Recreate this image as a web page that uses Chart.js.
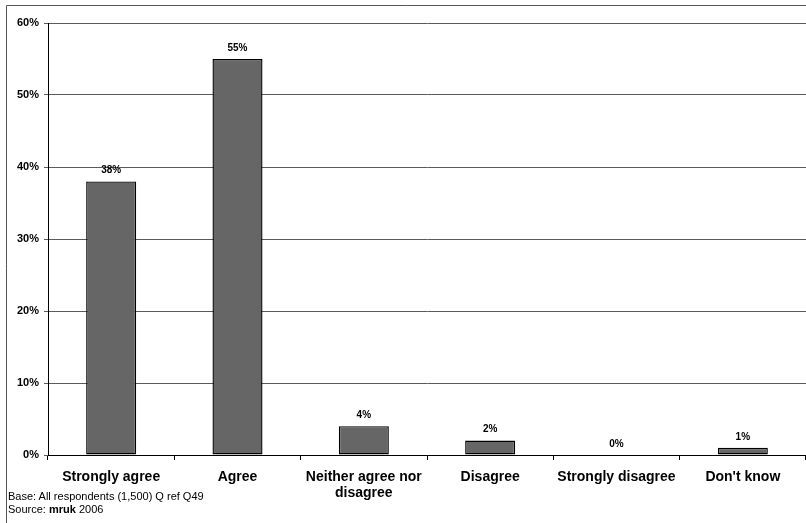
<!DOCTYPE html>
<html>
<head>
<meta charset="utf-8">
<script src="https://cdn.jsdelivr.net/npm/chart.js@4"></script>
<style>
  html, body { margin: 0; padding: 0; background: #fff; }
  #wrap { position: relative; width: 806px; height: 523px; }
  #note { position: absolute; left: 8px; top: 490px; font: 11px Arial, "Liberation Sans", sans-serif; color: #000; line-height: 13px; }
</style>
</head>
<body>
<div id="wrap">
  <canvas id="grafico" width="806" height="523"></canvas>
  <div id="note">Base: All respondents (1,500) Q ref Q49<br>Source: <b>mruk</b> 2006</div>
</div>
<script>
// categorias e valores (%)
const categorias = ['Strongly agree', 'Agree', ['Neither agree nor', 'disagree'], 'Disagree', 'Strongly disagree', "Don't know"];
const valores = [38, 55, 4, 2, 0, 1];
const ticksY = [0, 10, 20, 30, 40, 50, 60];

// moldura + rótulos de valor
const extras = {
  id: 'extras',
  beforeDraw(chart) {
    const c = chart.ctx;
    c.save();
    c.strokeStyle = '#555';
    c.lineWidth = 1;
    c.beginPath();
    c.moveTo(6.5, 523);
    c.lineTo(6.5, 5.5);
    c.lineTo(806, 5.5);
    c.stroke();
    c.restore();
  },
  afterDatasetsDraw(chart) {
    const c = chart.ctx;
    const meta = chart.getDatasetMeta(0);
    c.save();
    c.font = 'bold 10px Arial';
    c.fillStyle = '#000';
    c.textAlign = 'center';
    c.textBaseline = 'bottom';
    meta.data.forEach((bar, i) => {
      c.fillText(valores[i] + '%', bar.x, bar.y - 6);
    });
    c.restore();
  }
};

new Chart(document.getElementById('grafico'), {
  type: 'bar',
  data: {
    labels: categorias,
    datasets: [{
      data: valores,
      backgroundColor: '#666666',
      borderColor: '#000',
      borderWidth: 1.4,
      borderSkipped: false,
      barPercentage: 0.396,
      categoryPercentage: 1
    }]
  },
  options: {
    responsive: false,
    animation: false,
    layout: { padding: { left: 6, top: 23, right: 0, bottom: 0 } },
    plugins: {
      legend: { display: false },
      tooltip: { enabled: false }
    },
    scales: {
      x: {
        afterFit(s) { s.height = 68; },
        grid: { drawOnChartArea: false, drawTicks: true, tickLength: 5, color: '#000' },
        border: { color: '#000' },
        ticks: {
          color: '#000',
          font: { family: 'Arial', size: 14, weight: 'bold', lineHeight: 1.15 },
          padding: 9,
          maxRotation: 0,
          autoSkip: false
        }
      },
      y: {
        min: 0,
        max: 60,
        afterFit(s) { s.width = 42; },
        afterBuildTicks(s) { s.ticks = ticksY.map(v => ({ value: v })); },
        grid: { color: '#5a5a5a', tickLength: 4 },
        border: { color: '#000' },
        ticks: {
          color: '#000',
          font: { family: 'Arial', size: 11, weight: 'bold' },
          padding: 5,
          callback: v => v + '%'
        }
      }
    }
  },
  plugins: [extras]
});
</script>
</body>
</html>
